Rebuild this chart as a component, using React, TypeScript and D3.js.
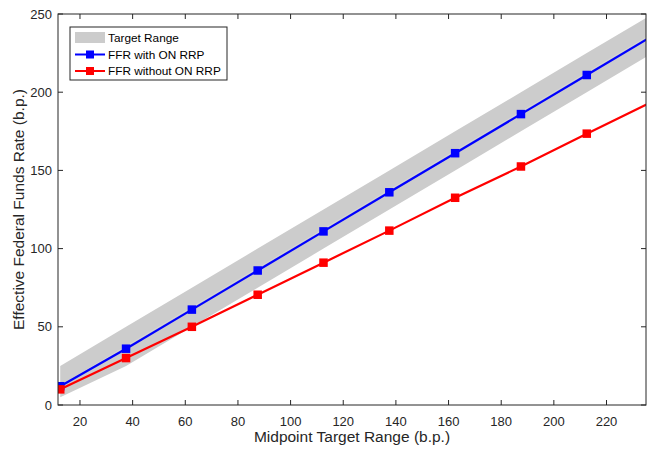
import React from 'react'
import * as d3 from 'd3'

// data (b.p.)
const midpoints = [12.5, 37.5, 62.5, 87.5, 112.5, 137.5, 162.5, 187.5, 212.5, 237.5]
const rangeLow = [5, 25, 50, 75, 100, 125, 150, 175, 200, 225]
const rangeHigh = [25, 50, 75, 100, 125, 150, 175, 200, 225, 250]
const ffrWith = [12, 36, 61, 86, 111, 136, 161, 186, 211, 236]
const ffrWithout = [10, 30, 50, 70.5, 91, 111.5, 132.5, 152.5, 173.5, 194]
const xTicks = [20, 40, 60, 80, 100, 120, 140, 160, 180, 200, 220]
const yTicks = [0, 50, 100, 150, 200, 250]

const W = 647
const H = 450
const left = 58
const right = 646
const top = 14
const bottom = 405
const font = '"Liberation Sans", Arial, sans-serif'
const axisColor = '#262626'

const App = () => {
    const x = d3.scaleLinear().domain([11.65, 235]).range([left, right])
    const y = d3.scaleLinear().domain([0, 250]).range([bottom, top])

    const band = d3.area<number>()
        .x((_, i) => x(midpoints[i]))
        .y0((_, i) => y(rangeLow[i]))
        .y1((_, i) => y(rangeHigh[i]))
    const mid = d3.line<number>().x(d => x(d)).y(d => y(d))
    const line = (vals: number[]) => d3.line<number>()
        .x((_, i) => x(midpoints[i]))
        .y(d => y(d))(vals)

    const series = [
        { name: 'FFR with ON RRP', color: '#0000ff', values: ffrWith },
        { name: 'FFR without ON RRP', color: '#ff0000', values: ffrWithout },
    ]
    const ms = 8.5

    return (
        <div style={{ position: 'absolute', left: 0, top: 0 }}>
            <svg width={W} height={H} style={{ display: 'block', background: '#fff' }} fontFamily={font}>
                <defs>
                    <clipPath id="plot">
                        <rect x={left} y={top} width={right - left} height={bottom - top} />
                    </clipPath>
                </defs>
                <g clipPath="url(#plot)">
                    <path d={band(midpoints) ?? ''} fill="#cccccc" />
                    <path d={mid(midpoints) ?? ''} fill="none" stroke="#dcdcdc" strokeWidth={0.6} />
                    {series.map(s => (
                        <g key={s.name}>
                            <path d={line(s.values) ?? ''} fill="none" stroke={s.color} strokeWidth={2.2} />
                            {s.values.map((v, i) => (
                                <rect key={i} x={x(midpoints[i]) - ms / 2} y={y(v) - ms / 2}
                                    width={ms} height={ms} fill={s.color} />
                            ))}
                        </g>
                    ))}
                </g>

                {/* axes box */}
                <rect x={left} y={top} width={right - left} height={bottom - top}
                    fill="none" stroke={axisColor} strokeWidth={1} />
                {xTicks.map(t => (
                    <g key={t}>
                        <line x1={x(t)} x2={x(t)} y1={bottom} y2={bottom - 5} stroke={axisColor} />
                        <line x1={x(t)} x2={x(t)} y1={top} y2={top + 5} stroke={axisColor} />
                        <text x={x(t)} y={bottom + 20.5} textAnchor="middle" fontSize={13} fill={axisColor}>{t}</text>
                    </g>
                ))}
                {yTicks.map(t => (
                    <g key={t}>
                        <line x1={left} x2={left + 5} y1={y(t)} y2={y(t)} stroke={axisColor} />
                        <line x1={right} x2={right - 5} y1={y(t)} y2={y(t)} stroke={axisColor} />
                        <text x={left - 6} y={y(t) + 4.5} textAnchor="end" fontSize={13} fill={axisColor}>{t}</text>
                    </g>
                ))}
                <text x={(left + right) / 2} y={442} textAnchor="middle" fontSize={15.5} fill={axisColor}>
                    Midpoint Target Range (b.p.)
                </text>
                <text transform={`translate(24,${(top + bottom) / 2}) rotate(-90)`} textAnchor="middle"
                    fontSize={15.5} fill={axisColor}>
                    Effective Federal Funds Rate (b.p.)
                </text>

                {/* legend */}
                <g transform="translate(70,27)">
                    <rect x={0} y={0} width={157} height={53} fill="#fff" stroke={axisColor} strokeWidth={1} />
                    <rect x={5} y={5} width={30} height={11} fill="#cccccc" />
                    <text x={38} y={15} fontSize={11.8} fill="#000">Target Range</text>
                    {series.map((s, i) => {
                        const cy = 27.5 + i * 16.5
                        return (
                            <g key={s.name}>
                                <line x1={5} x2={35} y1={cy} y2={cy} stroke={s.color} strokeWidth={2} />
                                <rect x={20 - 4} y={cy - 4} width={8} height={8} fill={s.color} />
                                <text x={38} y={cy + 4} fontSize={11.8} fill="#000">{s.name}</text>
                            </g>
                        )
                    })}
                </g>
            </svg>
        </div>
    )
}

export default App
